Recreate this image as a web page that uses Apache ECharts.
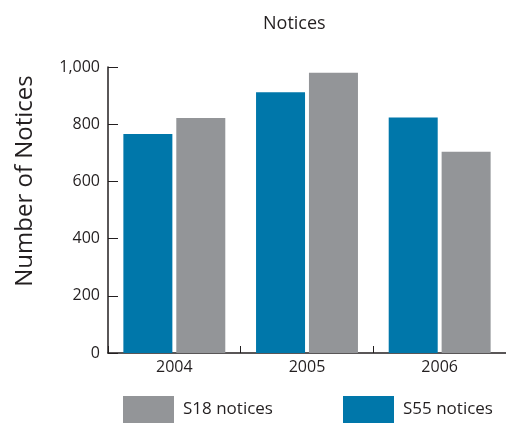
<!DOCTYPE html>
<html>
<head>
<meta charset="utf-8">
<script src="https://cdn.jsdelivr.net/npm/echarts@6/dist/echarts.min.js"></script>
<style>
  html, body { margin: 0; padding: 0; background: #fff; }
  #chart { width: 506px; height: 423px; }
</style>
</head>
<body>
<div id="chart"></div>
<script>
// Data
const years = ['2004', '2005', '2006'];
const s55Notices = [766, 912, 823];
const s18Notices = [822, 980, 704];

const BLUE = '#0077aa';
const GREY = '#939598';
const FONT = '"Open Sans", "Noto Sans", sans-serif';

const chart = echarts.init(document.getElementById('chart'));

chart.setOption({
    backgroundColor: '#fff',
    animation: false,
    textStyle: { fontFamily: FONT, color: '#231f20' },
    title: {
        text: 'Notices',
        left: 258,
        top: 10,
        textStyle: { fontFamily: FONT, fontSize: 18, fontWeight: 'normal', color: '#231f20' }
    },
    // Two separate legends so each swatch sits where the original has it
    legend: [
        {
            data: ['S18 notices'],
            left: 123,
            top: 396,
            padding: 0,
            itemWidth: 51,
            itemHeight: 27,
            icon: 'rect',
            textStyle: { fontFamily: FONT, fontSize: 17, color: '#231f20', padding: [3, 0, 0, 4] }
        },
        {
            data: ['S55 notices'],
            left: 343,
            top: 396,
            padding: 0,
            itemWidth: 51,
            itemHeight: 27,
            icon: 'rect',
            textStyle: { fontFamily: FONT, fontSize: 17, color: '#231f20', padding: [3, 0, 0, 4] }
        }
    ],
    grid: { left: 108, right: 0, top: 67, bottom: 70, containLabel: false },
    xAxis: {
        type: 'category',
        data: years,
        axisLine: { lineStyle: { color: '#231f20', width: 1.5 } },
        axisTick: { show: true, inside: true, length: 7, lineStyle: { color: '#231f20' } },
        axisLabel: { fontFamily: FONT, fontSize: 16, color: '#231f20', margin: 6 }
    },
    yAxis: {
        type: 'value',
        min: 0,
        max: 1000,
        interval: 200,
        splitLine: { show: false },
        axisLine: { show: true, lineStyle: { color: '#231f20', width: 1.5 } },
        axisTick: { show: true, inside: true, length: 10, lineStyle: { color: '#231f20' } },
        axisLabel: {
            fontFamily: FONT, fontSize: 16, color: '#231f20', margin: 8,
            formatter: v => v.toLocaleString('en-US')
        }
    },
    graphic: [
        {
            type: 'text',
            x: 25,
            y: 181,
            rotation: Math.PI / 2,
            style: {
                text: 'Number of Notices',
                font: '24px ' + FONT,
                fill: '#231f20',
                textAlign: 'center',
                textVerticalAlign: 'middle'
            }
        }
    ],
    series: [
        {
            name: 'S55 notices',
            type: 'bar',
            data: s55Notices,
            barWidth: 49,
            barGap: '8%',
            itemStyle: { color: BLUE }
        },
        {
            name: 'S18 notices',
            type: 'bar',
            data: s18Notices,
            barWidth: 49,
            barGap: '8%',
            itemStyle: { color: GREY }
        }
    ]
});

window.addEventListener('resize', () => chart.resize());
</script>
</body>
</html>
